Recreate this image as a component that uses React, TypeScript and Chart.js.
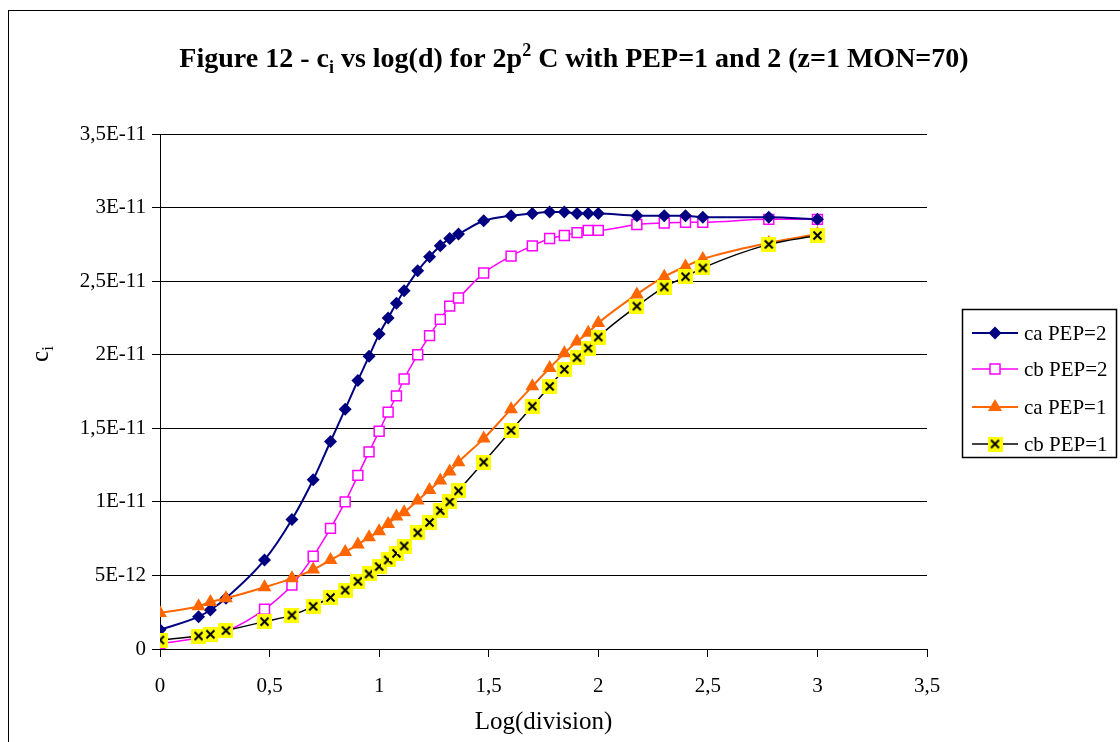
import React, { useEffect, useRef } from "react";
import { Chart, registerables } from "chart.js";
Chart.register(...registerables);

// ---- data ----
const logDivision = [0, 0.176, 0.23, 0.301, 0.477, 0.602, 0.699, 0.778, 0.845, 0.903, 0.954, 1.0, 1.041, 1.079, 1.114, 1.176, 1.23, 1.279, 1.322, 1.362, 1.477, 1.602, 1.699, 1.778, 1.845, 1.903, 1.954, 2.0, 2.176, 2.301, 2.398, 2.477, 2.778, 3.0];
// values in units of 1E-12
const caPep2 = [1.3, 2.2, 2.65, 3.45, 6.05, 8.8, 11.5, 14.1, 16.3, 18.25, 19.9, 21.4, 22.5, 23.5, 24.35, 25.7, 26.65, 27.4, 27.9, 28.2, 29.1, 29.45, 29.6, 29.7, 29.7, 29.6, 29.6, 29.6, 29.45, 29.45, 29.45, 29.35, 29.35, 29.2];
const cbPep2 = [0.35, 0.75, 0.9, 1.2, 2.7, 4.35, 6.3, 8.2, 10.0, 11.8, 13.4, 14.8, 16.1, 17.2, 18.35, 20.0, 21.3, 22.4, 23.3, 23.85, 25.55, 26.7, 27.4, 27.9, 28.1, 28.3, 28.45, 28.45, 28.85, 28.95, 29.0, 29.0, 29.2, 29.2];
const caPep1 = [2.45, 2.9, 3.2, 3.45, 4.2, 4.8, 5.4, 6.05, 6.6, 7.1, 7.6, 8.0, 8.5, 9.0, 9.3, 10.1, 10.8, 11.45, 12.06, 12.7, 14.3, 16.3, 17.85, 19.1, 20.1, 20.9, 21.5, 22.15, 24.1, 25.3, 26.0, 26.5, 27.6, 28.2];
const cbPep1 = [0.61, 0.88, 1.0, 1.25, 1.86, 2.3, 2.9, 3.5, 4.0, 4.6, 5.1, 5.6, 6.05, 6.5, 7.0, 7.9, 8.6, 9.4, 10.0, 10.75, 12.7, 14.85, 16.5, 17.85, 19.0, 19.8, 20.45, 21.2, 23.3, 24.6, 25.3, 25.9, 27.5, 28.1];
const seriesNames = ["ca PEP=2", "cb PEP=2", "ca PEP=1", "cb PEP=1"];
const xTickLabels = ["0", "0,5", "1", "1,5", "2", "2,5", "3", "3,5"];
const yTickLabels = ["0", "5E-12", "1E-11", "1,5E-11", "2E-11", "2,5E-11", "3E-11", "3,5E-11"];
const xAxisTitle = "Log(division)";

const FONT = '"Liberation Serif", "Times New Roman", serif';

function makeXMarker(): HTMLCanvasElement {
  const c = document.createElement("canvas");
  c.width = 15;
  c.height = 15;
  const g = c.getContext("2d")!;
  g.fillStyle = "#FFFF00";
  g.fillRect(0, 0, 15, 15);
  g.strokeStyle = "#000";
  g.lineWidth = 2;
  g.beginPath();
  g.moveTo(3.5, 3.5);
  g.lineTo(11.5, 11.5);
  g.moveTo(11.5, 3.5);
  g.lineTo(3.5, 11.5);
  g.stroke();
  return c;
}

export default function App() {
  const ref = useRef<HTMLCanvasElement>(null);
  useEffect(() => {
    const xMarker = makeXMarker();
    const pts = (arr: number[]) => arr.map((v, i) => ({ x: logDivision[i], y: v }));

    const styles = [
      { color: "#000080", pointStyle: "rectRot" as any, radius: 6.5, bg: "#000080", lw: 2, order: 3 },
      { color: "#FF00FF", pointStyle: "rect" as any, radius: 7, bg: "#FFFFFF", lw: 1.5, order: 4 },
      { color: "#FF6600", pointStyle: "triangle" as any, radius: 8, bg: "#FF6600", lw: 2, order: 2 },
      { color: "#000000", pointStyle: xMarker as any, radius: 7, bg: "#FFFF00", lw: 1.5, order: 1 },
    ];
    const seriesData = [caPep2, cbPep2, caPep1, cbPep1];

    const deco = {
      id: "deco",
      afterDraw(chart: any) {
        const ctx = chart.ctx as CanvasRenderingContext2D;
        ctx.save();
        // outer frame
        ctx.strokeStyle = "#000";
        ctx.lineWidth = 1;
        ctx.strokeRect(8.5, 10.5, 1300, 1300);

        // title
        const big = `bold 28px ${FONT}`;
        const small = `bold 18px ${FONT}`;
        const parts: [string, string, number][] = [
          ["Figure 12 - c", big, 0],
          ["i", small, 6],
          [" vs log(d) for 2p", big, 0],
          ["2", small, -11],
          [" C with PEP=1 and 2 (z=1 MON=70)", big, 0],
        ];
        let total = 0;
        for (const [t, f] of parts) {
          ctx.font = f;
          total += ctx.measureText(t).width;
        }
        let x = 574 - total / 2;
        ctx.fillStyle = "#000";
        ctx.textBaseline = "alphabetic";
        ctx.textAlign = "left";
        for (const [t, f, dy] of parts) {
          ctx.font = f;
          ctx.fillText(t, x, 67 + dy);
          x += ctx.measureText(t).width;
        }

        // x axis title
        ctx.font = `25px ${FONT}`;
        ctx.textAlign = "center";
        ctx.textBaseline = "middle";
        ctx.fillText(xAxisTitle, (chart.chartArea.left + chart.chartArea.right) / 2, 722);

        // y axis title "c_i"
        ctx.save();
        ctx.translate(40, 354);
        ctx.rotate(-Math.PI / 2);
        ctx.textAlign = "left";
        ctx.textBaseline = "alphabetic";
        ctx.font = `25px ${FONT}`;
        const wc = ctx.measureText("c").width;
        ctx.font = `17px ${FONT}`;
        const wi = ctx.measureText("i").width;
        const sx = -(wc + wi) / 2;
        ctx.font = `25px ${FONT}`;
        ctx.fillText("c", sx, 8);
        ctx.font = `17px ${FONT}`;
        ctx.fillText("i", sx + wc, 13);
        ctx.restore();

        // legend
        ctx.strokeStyle = "#000";
        ctx.lineWidth = 1.5;
        ctx.strokeRect(962.5, 309.5, 154, 148);
        const rows = [333, 369, 407, 444];
        ctx.font = `21px ${FONT}`;
        ctx.textAlign = "left";
        ctx.textBaseline = "middle";
        styles.forEach((s, i) => {
          const y = rows[i];
          ctx.strokeStyle = s.color;
          ctx.lineWidth = s.lw;
          ctx.beginPath();
          ctx.moveTo(972, y);
          ctx.lineTo(1018, y);
          ctx.stroke();
          const cx = 995;
          if (i === 0) {
            ctx.fillStyle = s.color;
            ctx.beginPath();
            ctx.moveTo(cx, y - 6.5);
            ctx.lineTo(cx + 6.5, y);
            ctx.lineTo(cx, y + 6.5);
            ctx.lineTo(cx - 6.5, y);
            ctx.closePath();
            ctx.fill();
          } else if (i === 1) {
            ctx.fillStyle = "#fff";
            ctx.fillRect(cx - 5, y - 5, 10, 10);
            ctx.strokeStyle = s.color;
            ctx.lineWidth = 1.5;
            ctx.strokeRect(cx - 5, y - 5, 10, 10);
          } else if (i === 2) {
            ctx.fillStyle = s.color;
            ctx.beginPath();
            ctx.moveTo(cx, y - 8);
            ctx.lineTo(cx + 7, y + 4);
            ctx.lineTo(cx - 7, y + 4);
            ctx.closePath();
            ctx.fill();
          } else {
            ctx.drawImage(xMarker, cx - 7.5, y - 7.5);
          }
          ctx.fillStyle = "#000";
          ctx.fillText(seriesNames[i], 1024, y + 1);
        });
        ctx.restore();
      },
    };

    const chart = new Chart(ref.current!, {
      type: "line",
      data: {
        datasets: seriesData.map((arr, i) => ({
          label: seriesNames[i],
          data: pts(arr),
          borderColor: styles[i].color,
          borderWidth: styles[i].lw,
          pointStyle: styles[i].pointStyle,
          pointRadius: styles[i].radius,
          pointBorderWidth: i === 1 ? 1.5 : 0,
          pointBorderColor: styles[i].color,
          pointBackgroundColor: styles[i].bg,
          cubicInterpolationMode: "monotone",
          fill: false,
          order: styles[i].order,
        })),
      },
      options: {
        animation: false,
        responsive: false,
        devicePixelRatio: 1,
        events: [],
        layout: { padding: { top: 134, right: 193, left: 0, bottom: 0 } },
        plugins: {
          legend: { display: false },
          tooltip: { enabled: false },
          title: { display: false },
        },
        scales: {
          x: {
            type: "linear",
            min: 0,
            max: 3.5,
            ticks: {
              stepSize: 0.5,
              callback: (_v: any, i: number) => xTickLabels[i],
              font: { family: FONT, size: 21 },
              color: "#000",
              padding: 17,
              maxRotation: 0,
              autoSkip: false,
            },
            grid: { drawOnChartArea: false, drawTicks: true, tickLength: 8, color: "#000", lineWidth: 1 },
            border: { display: true, color: "#000", width: 1 },
            afterFit: (s: any) => {
              s.height = 93;
            },
          },
          y: {
            type: "linear",
            min: 0,
            max: 35,
            ticks: {
              stepSize: 5,
              callback: (_v: any, i: number) => yTickLabels[i],
              font: { family: FONT, size: 21 },
              color: "#000",
              padding: 6,
              autoSkip: false,
            },
            grid: { color: "#000", lineWidth: 1, tickLength: 8, drawTicks: true },
            border: { display: true, color: "#000", width: 1 },
            afterFit: (s: any) => {
              s.width = 160;
            },
          },
        },
      },
      plugins: [deco],
    } as any);
    return () => chart.destroy();
  }, []);

  return (
    <div style={{ position: "absolute", left: 0, top: 0, width: 1120, height: 742, background: "#fff" }}>
      <canvas ref={ref} width={1120} height={742} style={{ display: "block" }} />
    </div>
  );
}
